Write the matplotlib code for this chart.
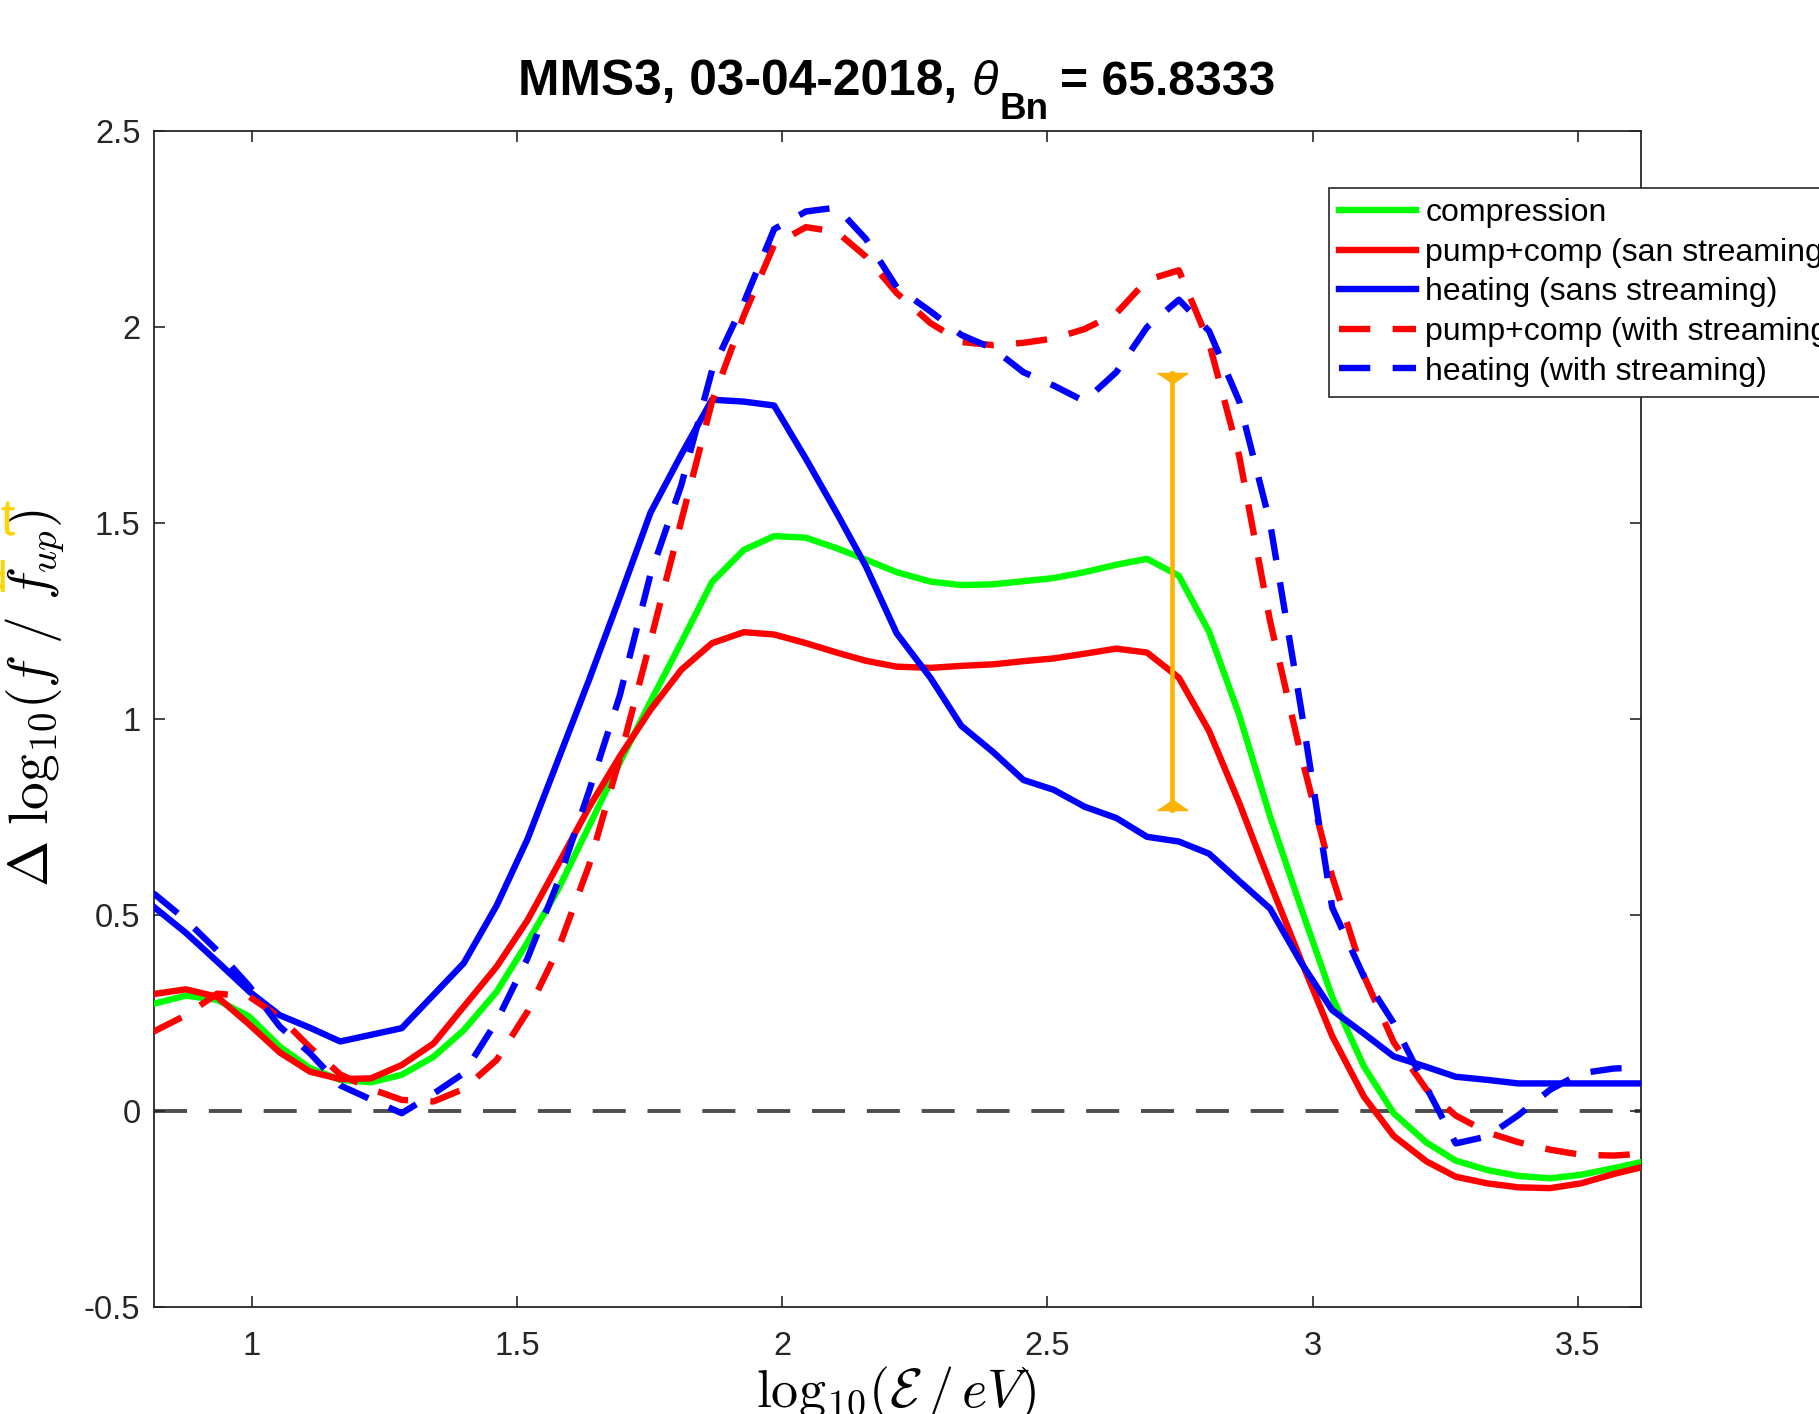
import matplotlib
matplotlib.use("Agg")
import matplotlib.pyplot as plt
from matplotlib.transforms import IdentityTransform

# === Data (log10 energy grid, Delta log10(f/f_up)) ===
log_e = [0.815, 0.876, 0.935, 0.995, 1.053, 1.110, 1.167, 1.225, 1.283, 1.343,
         1.400, 1.462, 1.520, 1.578, 1.636, 1.694, 1.752, 1.810, 1.868, 1.928,
         1.985, 2.045, 2.103, 2.158, 2.216, 2.280, 2.338, 2.398, 2.455, 2.512,
         2.570, 2.630, 2.688, 2.748, 2.805, 2.862, 2.920, 2.978, 3.037, 3.097,
         3.153, 3.215, 3.270, 3.330, 3.388, 3.448, 3.506, 3.568, 3.625]

compression = [0.274, 0.295, 0.284, 0.242, 0.165, 0.110, 0.080, 0.074, 0.093, 0.139,
               0.207, 0.305, 0.431, 0.566, 0.727, 0.889, 1.045, 1.196, 1.350, 1.432,
               1.467, 1.463, 1.436, 1.407, 1.375, 1.351, 1.342, 1.344, 1.352, 1.360,
               1.375, 1.394, 1.409, 1.366, 1.223, 1.010, 0.752, 0.520, 0.292, 0.114,
               -0.005, -0.080, -0.126, -0.150, -0.165, -0.171, -0.162, -0.145, -0.128]

pump_comp_sans = [0.299, 0.311, 0.292, 0.222, 0.150, 0.101, 0.082, 0.084, 0.118, 0.173,
                  0.267, 0.369, 0.487, 0.630, 0.775, 0.905, 1.024, 1.126, 1.194, 1.222,
                  1.216, 1.194, 1.170, 1.149, 1.134, 1.131, 1.136, 1.140, 1.148, 1.155,
                  1.167, 1.180, 1.170, 1.106, 0.970, 0.786, 0.582, 0.386, 0.192, 0.037,
                  -0.063, -0.128, -0.167, -0.184, -0.194, -0.196, -0.184, -0.160, -0.141]

heating_sans = [0.522, 0.455, 0.382, 0.306, 0.245, 0.213, 0.178, 0.195, 0.212, 0.297,
                0.378, 0.525, 0.694, 0.897, 1.100, 1.311, 1.527, 1.675, 1.815, 1.810,
                1.800, 1.664, 1.526, 1.390, 1.219, 1.105, 0.983, 0.916, 0.845, 0.820,
                0.777, 0.748, 0.700, 0.688, 0.657, 0.587, 0.517, 0.380, 0.258, 0.198,
                0.140, 0.113, 0.088, 0.080, 0.071, 0.071, 0.071, 0.071, 0.071]

pump_comp_with = [0.203, 0.245, 0.300, 0.293, 0.240, 0.163, 0.094, 0.057, 0.029, 0.025,
                  0.057, 0.131, 0.254, 0.414, 0.627, 0.900, 1.200, 1.506, 1.810, 2.030,
                  2.210, 2.255, 2.243, 2.180, 2.087, 2.010, 1.962, 1.954, 1.960, 1.971,
                  1.995, 2.035, 2.120, 2.145, 1.960, 1.670, 1.250, 0.910, 0.600, 0.345,
                  0.176, 0.055, -0.011, -0.054, -0.079, -0.098, -0.111, -0.113, -0.108]

heating_with = [0.556, 0.488, 0.410, 0.320, 0.216, 0.148, 0.066, 0.030, -0.005, 0.045,
                0.097, 0.230, 0.390, 0.586, 0.816, 1.060, 1.370, 1.597, 1.890, 2.063,
                2.250, 2.295, 2.305, 2.225, 2.102, 2.040, 1.980, 1.945, 1.885, 1.851,
                1.811, 1.885, 2.000, 2.070, 1.990, 1.810, 1.500, 1.030, 0.520, 0.343,
                0.225, 0.060, -0.082, -0.064, -0.010, 0.055, 0.097, 0.109, 0.112]

labels = ["compression", "pump+comp (san streaming)", "heating (sans streaming)",
          "pump+comp (with streaming)", "heating (with streaming)"]

# orange bar
bar_x = 2.735
bar_lo = 0.769
bar_hi = 1.882

x_ticks = [1, 1.5, 2, 2.5, 3, 3.5]
x_tick_labels = ["1", "1.5", "2", "2.5", "3", "3.5"]
y_ticks = [-0.5, 0, 0.5, 1, 1.5, 2, 2.5]
y_tick_labels = ["-0.5", "0", "0.5", "1", "1.5", "2", "2.5"]

# === Style ===
plt.rcParams["font.family"] = ["Liberation Sans", "DejaVu Sans"]
plt.rcParams["axes.unicode_minus"] = False

W, H = 1819, 1414
fig = plt.figure(figsize=(W / 100, H / 100), dpi=100)
ax = fig.add_axes([154.3 / W, 1 - 1307.3 / H, (1641.4 - 154.3) / W, (1307.3 - 131.1) / H])

LW = 4.6
DASH = (4.9, 3.5)

ax.axhline(0, color="#4D4D4D", lw=2.8, dashes=(8.5, 5.6), zorder=1)

ax.plot(log_e, compression, color="#00FF00", lw=LW, label=labels[0], zorder=3)
ax.plot(log_e, pump_comp_sans, color="#FF0000", lw=LW, label=labels[1], zorder=3)
ax.plot(log_e, heating_sans, color="#0000FF", lw=LW, label=labels[2], zorder=3)
ax.plot(log_e, pump_comp_with, color="#FF0000", lw=LW, dashes=DASH, label=labels[3], zorder=3)
ax.plot(log_e, heating_with, color="#0000FF", lw=LW, dashes=DASH, label=labels[4], zorder=3)

# vertical orange bar with flat triangular caps
orange = "#FFB300"
ax.plot([bar_x, bar_x], [bar_lo, bar_hi], color=orange, lw=3.3, zorder=4)
ax.plot([bar_x], [bar_hi], marker=[(-1, 0), (1, 0), (0, -0.7)], ms=22,
        color=orange, mec=orange, zorder=4)
ax.plot([bar_x], [bar_lo], marker=[(-1, 0), (1, 0), (0, 0.7)], ms=22,
        color=orange, mec=orange, zorder=4)

ax.set_xlim(0.8165, 3.62)
ax.set_ylim(-0.5, 2.5)
ax.set_xticks(x_ticks)
ax.set_xticklabels(x_tick_labels)
ax.set_yticks(y_ticks)
ax.set_yticklabels(y_tick_labels)
ax.tick_params(axis="both", direction="in", length=8, width=1.2, colors="#262626",
               labelsize=23.5, labelcolor="#262626", top=True, right=True)
ax.tick_params(axis="x", pad=17)
ax.tick_params(axis="y", pad=10)
for s in ax.spines.values():
    s.set_linewidth(1.3)
    s.set_color("#262626")

leg = ax.legend(loc="upper left", bbox_to_anchor=(1329 / W, 1 - 188 / H),
                bbox_transform=fig.transFigure, borderaxespad=0, fontsize=23,
                fancybox=False, framealpha=1, edgecolor="#262626",
                handlelength=2.4, handletextpad=0.3, labelspacing=0.30, borderpad=0.32)
leg.get_frame().set_linewidth(1.2)

# title assembled from pieces so the subscript sits low, as in the reference
renderer = fig.canvas.get_renderer()
px = IdentityTransform()
base = H - 95
x0 = 518.5
t1 = fig.text(x0, base, "MMS3, 03-04-2018,", fontsize=35.7, fontweight="bold",
              va="baseline", transform=px)
x1 = t1.get_window_extent(renderer).x1 + 14
t2 = fig.text(x1, base, "\u03b8", fontsize=35, fontstyle="italic",
              va="baseline", transform=px)
x2 = t2.get_window_extent(renderer).x1 + 1
t3 = fig.text(x2, base - 24, "Bn", fontsize=26.5, fontweight="bold",
              va="baseline", transform=px)
x3 = t3.get_window_extent(renderer).x1 + 12
fig.text(x3, base, "= 65.8333", fontsize=34.6, fontweight="bold", va="baseline", transform=px)

# axis labels (LaTeX look)
fig.text(35 / W, 1 - 698 / H, r"$\Delta\ \mathrm{log}_{10}(f\ /\ f_{up})$", fontsize=40,
         rotation=90, ha="center", va="center", math_fontfamily="cm")
fig.text(896 / W, 1 - 1407 / H, r"$\mathrm{log}_{10}(\mathcal{E}\,/\,eV)$", fontsize=39,
         ha="center", va="baseline", math_fontfamily="cm")

# clipped yellow text at the left border
fig.text(0.0, 1 - 536 / H, "t", color="#FFD400", fontsize=37, ha="left", va="baseline")
fig.text(7 / W, 1 - 592 / H, "d", color="#FFD400", fontsize=32, ha="right", va="baseline")

fig.savefig("out.png", dpi=100, facecolor="white")
